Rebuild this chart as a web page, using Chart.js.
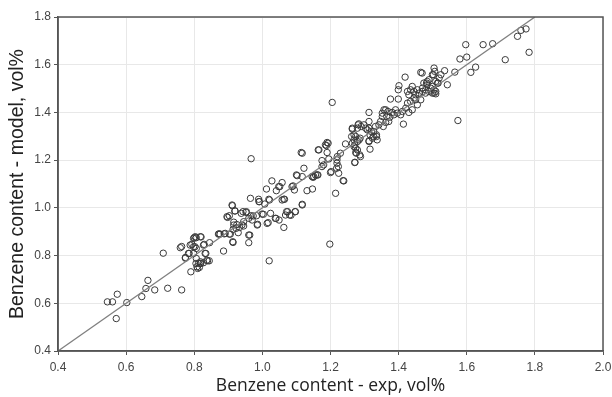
<!DOCTYPE html>
<html>
<head>
<meta charset="utf-8">
<script src="https://cdn.jsdelivr.net/npm/chart.js@4"></script>
<style>
  html, body { margin: 0; padding: 0; background: #fff; }
  #wrap { width: 612px; height: 397px; }
</style>
</head>
<body>
<div id="wrap"><canvas id="chart" width="612" height="397"></canvas></div>
<script>
// [exp, model] benzene content, vol%
const benzenePoints = [
  [0.545,0.606],[0.56,0.606],[0.574,0.638],[0.571,0.536],[0.602,0.603],[0.646,0.628],[0.658,0.662],[0.664,0.696],
  [0.684,0.656],[0.722,0.663],[0.709,0.810],[0.763,0.656],[0.759,0.833],[0.763,0.838],[0.774,0.789],[0.790,0.732],
  [0.785,0.809],[0.793,0.847],[0.800,0.875],[0.806,0.875],[0.820,0.878],[0.802,0.837],[0.805,0.767],[0.810,0.746],
  [0.815,0.750],[0.819,0.767],[0.829,0.847],[0.834,0.809],[0.839,0.778],[0.844,0.778],[0.845,0.854],[0.873,0.891],
  [0.886,0.819],[0.888,0.891],[0.903,0.890],[0.914,0.855],[0.896,0.963],[0.903,0.967],[0.912,1.009],[0.920,0.987],
  [0.916,0.928],[0.916,0.940],[0.923,0.914],[0.929,0.896],[0.938,0.977],[0.945,0.924],[0.952,0.981],[0.960,0.886],
  [0.960,0.854],[0.967,0.967],[0.970,0.949],[0.983,0.967],[0.985,0.928],[0.990,1.026],[1.003,0.973],[1.007,1.016],
  [1.014,0.935],[1.017,0.938],[1.020,0.778],[1.024,0.977],[1.038,0.956],[1.049,0.949],[1.063,0.918],[1.068,0.970],
  [1.074,0.984],[1.080,0.970],[1.096,0.984],[1.117,1.012],[0.967,1.206],[0.788,0.844],[0.798,0.837],[0.774,0.792],
  [0.806,0.788],[0.832,0.809],[0.827,0.844],[0.837,0.781],[0.808,0.753],[0.818,0.767],[0.876,0.890],[0.891,0.893],
  [0.906,0.890],[0.913,0.858],[0.911,1.012],[0.919,0.987],[0.898,0.960],[0.914,0.910],[0.925,0.930],[0.933,0.918],
  [0.940,0.928],[0.945,0.942],[0.943,0.984],[0.953,0.984],[0.960,0.956],[0.973,0.966],[0.965,1.040],[0.963,0.886],
  [0.986,0.931],[0.991,1.026],[0.999,0.974],[1.021,1.033],[1.012,1.079],[1.028,1.113],[1.041,1.072],[1.048,1.089],
  [1.058,1.106],[1.040,0.956],[1.058,1.033],[1.065,1.036],[1.071,0.984],[1.084,0.969],[1.090,1.092],[1.097,0.984],
  [1.094,1.075],[1.117,1.015],[1.100,1.138],[1.114,1.232],[1.122,1.166],[1.131,1.072],[1.147,1.079],[1.149,1.128],
  [1.163,1.138],[1.164,1.243],[1.175,1.198],[1.185,1.264],[1.190,1.232],[1.200,1.148],[1.198,0.848],[1.215,1.061],
  [1.219,1.187],[1.205,1.442],[1.117,1.131],[1.156,1.138],[1.175,1.173],[1.188,1.261],[1.193,1.271],[1.195,1.205],
  [1.219,1.201],[1.223,1.173],[1.224,1.145],[1.229,1.229],[1.237,1.114],[1.244,1.268],[1.264,1.330],[1.262,1.299],
  [1.269,1.306],[1.269,1.285],[1.271,1.264],[1.274,1.250],[1.279,1.278],[1.284,1.285],[1.287,1.292],[1.276,1.229],
  [1.288,1.215],[1.271,1.190],[1.281,1.348],[1.298,1.348],[1.313,1.400],[1.313,1.362],[1.316,1.246],[1.313,1.278],
  [1.335,1.299],[1.352,1.397],[1.357,1.411],[1.376,1.456],[1.401,1.512],[1.399,1.495],[1.419,1.548],[1.414,1.351],
  [1.469,1.565],[1.482,1.523],[1.499,1.558],[1.504,1.586],[1.535,1.575],[1.543,1.516],[1.565,1.569],[1.574,1.366],
  [1.597,1.684],[1.648,1.684],[1.676,1.688],[1.580,1.624],[1.600,1.632],[1.612,1.568],[1.626,1.590],[1.713,1.621],
  [1.749,1.719],[1.759,1.744],[1.774,1.750],[1.783,1.652],[1.506,1.572],[1.519,1.544],[1.524,1.558],[1.514,1.523],
  [1.499,1.509],[1.484,1.530],[1.474,1.523],[1.489,1.488],[1.504,1.481],[1.509,1.488],[1.470,1.488],[1.465,1.453],
  [1.479,1.481],[1.399,1.456],[1.426,1.488],[1.430,1.474],[1.435,1.495],[1.440,1.509],[1.445,1.488],[1.450,1.474],
  [1.455,1.495],[1.460,1.481],[1.445,1.460],[1.435,1.446],[1.426,1.439],[1.450,1.453],[1.455,1.432],[1.440,1.411],
  [1.430,1.400],[1.421,1.418],[1.411,1.404],[1.406,1.390],[1.396,1.397],[1.391,1.411],[1.386,1.390],[1.381,1.400],
  [1.374,1.380],[1.369,1.404],[1.362,1.411],[1.365,1.383],[1.352,1.383],[1.371,1.362],[1.362,1.358],[1.355,1.341],
  [1.347,1.362],[1.342,1.348],[1.332,1.341],[1.327,1.320],[1.335,1.306],[1.337,1.285],[1.327,1.299],[1.320,1.320],
  [1.313,1.334],[1.308,1.327],[1.303,1.334],[1.316,1.306],[1.323,1.292],[1.290,1.341],[1.283,1.352],[1.279,1.334],
  [1.274,1.299],[1.264,1.271],[1.269,1.257],[1.279,1.243],[1.286,1.222],[1.274,1.232],[1.264,1.334],[1.272,1.191],
  [1.313,1.281],[1.190,1.274],[1.166,1.243],[1.180,1.180],[1.202,1.152],[1.220,1.215],[1.218,1.166],[1.239,1.113],
  [1.161,1.138],[1.151,1.131],[1.117,1.229],[1.465,1.568],[1.502,1.558],[1.509,1.530],[1.494,1.502],[1.489,1.537],
  [1.484,1.516],[1.479,1.495],[1.499,1.481],[1.509,1.478],[1.470,1.502],[1.504,1.495],[1.516,1.523],[1.102,1.135],
  [1.146,1.131],[1.087,1.089],[1.051,1.089],[0.989,1.036],[1.019,1.036],[1.063,1.036],[0.798,0.872],[0.803,0.879],
  [0.818,0.879],[0.783,0.809],[0.798,0.809],[0.806,0.830],[0.871,0.890],[0.818,0.774],[0.813,0.767],[0.827,0.770]
];

// y = x reference line
const fitLine = [[0.4, 0.4], [1.8, 1.8]];

const xRange = [0.4, 2.0];
const yRange = [0.4, 1.8];
const tickStep = 0.2;

const xTitle = 'Benzene content - exp, vol%';
const yTitle = 'Benzene content - model, vol%';

// closes the box around the plot area
const frame = {
  id: 'frame',
  afterDraw(chart) {
    const a = chart.chartArea;
    const ctx = chart.ctx;
    ctx.save();
    ctx.strokeStyle = '#555';
    ctx.lineWidth = 1.5;
    ctx.strokeRect(a.left, a.top, a.right - a.left, a.bottom - a.top);
    ctx.restore();
  }
};

const tickFont = { family: 'Liberation Sans', size: 12 };

new Chart(document.getElementById('chart'), {
  type: 'scatter',
  data: {
    datasets: [
      {
        type: 'line',
        data: fitLine.map(p => ({ x: p[0], y: p[1] })),
        borderColor: '#808080',
        borderWidth: 1.3,
        pointRadius: 0,
        fill: false
      },
      {
        data: benzenePoints.map(p => ({ x: p[0], y: p[1] })),
        pointRadius: 3.2,
        pointStyle: 'circle',
        borderColor: '#3a3a3a',
        borderWidth: 1,
        backgroundColor: 'rgba(0,0,0,0)'
      }
    ]
  },
  options: {
    responsive: false,
    animation: false,
    layout: { padding: { top: 17, right: 9, left: 0, bottom: 0 } },
    plugins: { legend: { display: false }, tooltip: { enabled: false } },
    scales: {
      x: {
        type: 'linear',
        min: xRange[0],
        max: xRange[1],
        ticks: {
          stepSize: tickStep,
          color: '#444',
          font: tickFont,
          padding: 5,
          maxRotation: 0,
          callback: v => v.toFixed(1)
        },
        grid: { color: '#e8e8e8', tickLength: 4, tickColor: '#555' },
        border: { color: '#555', width: 1.5 },
        title: {
          display: true, text: xTitle, color: '#222',
          font: { family: 'Open Sans', size: 17.5 },
          padding: { top: 1, bottom: 0 }
        },
        afterFit: s => { s.height = 46; s.paddingRight = 0; }
      },
      y: {
        type: 'linear',
        min: yRange[0],
        max: yRange[1],
        ticks: {
          stepSize: tickStep,
          color: '#444',
          font: tickFont,
          padding: 3,
          callback: v => v.toFixed(1)
        },
        grid: { color: '#e8e8e8', tickLength: 4, tickColor: '#555' },
        border: { color: '#555', width: 1.5 },
        title: {
          display: true, text: yTitle, color: '#222',
          font: { family: 'Liberation Sans', size: 19.5 },
          padding: { top: 6, bottom: 0 }
        },
        afterFit: s => { s.width = 58; }
      }
    }
  },
  plugins: [frame]
});
</script>
</body>
</html>
